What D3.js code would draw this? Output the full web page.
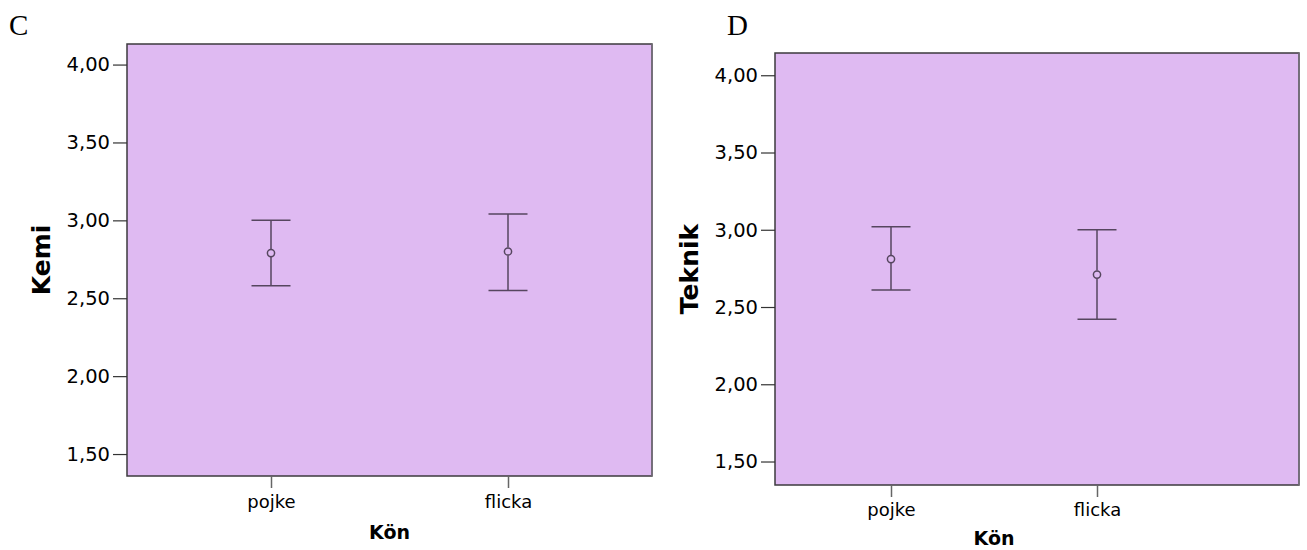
<!DOCTYPE html>
<html>
<head>
<meta charset="utf-8">
<script src="https://cdn.jsdelivr.net/npm/d3@7"></script>
<style>
  html, body { margin: 0; padding: 0; background: #fff; }
  svg { display: block; }
</style>
</head>
<body>
<svg id="chart" width="1307" height="550"></svg>
<script>
// Mean with 95% CI per gender, two subjects
const categories = ["pojke", "flicka"];
const yTicks = [1.5, 2.0, 2.5, 3.0, 3.5, 4.0];

const kemiMean  = [2.79, 2.80];
const kemiLow   = [2.58, 2.55];
const kemiHigh  = [3.00, 3.04];

const teknikMean = [2.81, 2.71];
const teknikLow  = [2.61, 2.42];
const teknikHigh = [3.02, 3.00];

const panels = [
  { letter: "C", title: "Kemi", mean: kemiMean, low: kemiLow, high: kemiHigh,
    box: { x0: 127, x1: 652, y0: 44, y1: 476 }, cat: [271, 508],
    yDomain: [1.359, 4.132], letterPos: [9, 35], titleX: 50, xTitleY: 539, catLabelY: 508 },
  { letter: "D", title: "Teknik", mean: teknikMean, low: teknikLow, high: teknikHigh,
    box: { x0: 775, x1: 1299, y0: 53, y1: 485 }, cat: [891, 1097],
    yDomain: [1.348, 4.144], letterPos: [727, 35], titleX: 698, xTitleY: 545, catLabelY: 516 }
];

const svg = d3.select("#chart");
const fmt = v => d3.format(".2f")(v).replace(".", ",");
const FILL = "#dfbaf2";
const BAR = "#56465f";

panels.forEach(p => {
  const g = svg.append("g");
  const b = p.box;
  const y = d3.scaleLinear().domain(p.yDomain).range([b.y1, b.y0]);
  const x = d3.scalePoint().domain(categories).range(p.cat);

  // panel letter
  g.append("text")
    .attr("x", p.letterPos[0]).attr("y", p.letterPos[1])
    .attr("font-family", "Liberation Serif, serif")
    .attr("font-size", 29)
    .attr("fill", "#000")
    .text(p.letter);

  // plot area
  g.append("rect")
    .attr("x", b.x0).attr("y", b.y0)
    .attr("width", b.x1 - b.x0).attr("height", b.y1 - b.y0)
    .attr("fill", FILL)
    .attr("stroke", "#3c3a3e").attr("stroke-width", 1.5);
  g.append("line")
    .attr("x1", b.x1).attr("x2", b.x1).attr("y1", b.y0).attr("y2", b.y1)
    .attr("stroke", "#7a7480").attr("stroke-width", 1.5);

  // y axis
  const ya = g.append("g")
    .attr("transform", `translate(${b.x0},0)`)
    .call(d3.axisLeft(y).tickValues(yTicks).tickFormat(fmt).tickSize(14).tickPadding(3));
  ya.select(".domain").remove();
  ya.selectAll(".tick line").attr("stroke", "#333").attr("stroke-width", 1.2);
  ya.selectAll(".tick text")
    .attr("font-family", "DejaVu Sans, sans-serif")
    .attr("font-size", 19.5).attr("fill", "#000");

  // x axis
  const xa = g.append("g")
    .attr("transform", `translate(0,${b.y1})`)
    .call(d3.axisBottom(x).tickSize(12).tickPadding(0));
  xa.select(".domain").remove();
  xa.selectAll(".tick line").attr("stroke", "#666").attr("stroke-width", 1.5);
  xa.selectAll(".tick text")
    .attr("font-family", "DejaVu Sans, sans-serif")
    .attr("font-size", 18).attr("fill", "#000")
    .attr("dy", null)
    .attr("y", p.catLabelY - b.y1);

  // axis titles
  g.append("text")
    .attr("transform", `translate(${p.titleX},${(b.y0 + b.y1) / 2}) rotate(-90)`)
    .attr("text-anchor", "middle")
    .attr("font-family", "DejaVu Sans, sans-serif")
    .attr("font-weight", "bold")
    .attr("font-size", 25)
    .attr("fill", "#000")
    .text(p.title);
  g.append("text")
    .attr("x", (p.cat[0] + p.cat[1]) / 2).attr("y", p.xTitleY)
    .attr("text-anchor", "middle")
    .attr("font-family", "DejaVu Sans, sans-serif")
    .attr("font-weight", "bold")
    .attr("font-size", 19)
    .attr("fill", "#000")
    .text("Kön");

  // error bars
  const rows = categories.map((c, i) => ({ c, m: p.mean[i], lo: p.low[i], hi: p.high[i] }));
  const eb = g.selectAll(".eb").data(rows).enter().append("g").attr("class", "eb");
  const capHalf = 19.5;
  eb.append("line")
    .attr("x1", d => x(d.c)).attr("x2", d => x(d.c))
    .attr("y1", d => y(d.hi)).attr("y2", d => y(d.m) - 4)
    .attr("stroke", BAR).attr("stroke-width", 1.5);
  eb.append("line")
    .attr("x1", d => x(d.c)).attr("x2", d => x(d.c))
    .attr("y1", d => y(d.m) + 4).attr("y2", d => y(d.lo))
    .attr("stroke", BAR).attr("stroke-width", 1.5);
  eb.append("line")
    .attr("x1", d => x(d.c) - capHalf).attr("x2", d => x(d.c) + capHalf)
    .attr("y1", d => y(d.hi)).attr("y2", d => y(d.hi))
    .attr("stroke", BAR).attr("stroke-width", 1.5);
  eb.append("line")
    .attr("x1", d => x(d.c) - capHalf).attr("x2", d => x(d.c) + capHalf)
    .attr("y1", d => y(d.lo)).attr("y2", d => y(d.lo))
    .attr("stroke", BAR).attr("stroke-width", 1.5);
  eb.append("circle")
    .attr("cx", d => x(d.c)).attr("cy", d => y(d.m))
    .attr("r", 3.6)
    .attr("fill", "none")
    .attr("stroke", BAR).attr("stroke-width", 1.5);
});
</script>
</body>
</html>
